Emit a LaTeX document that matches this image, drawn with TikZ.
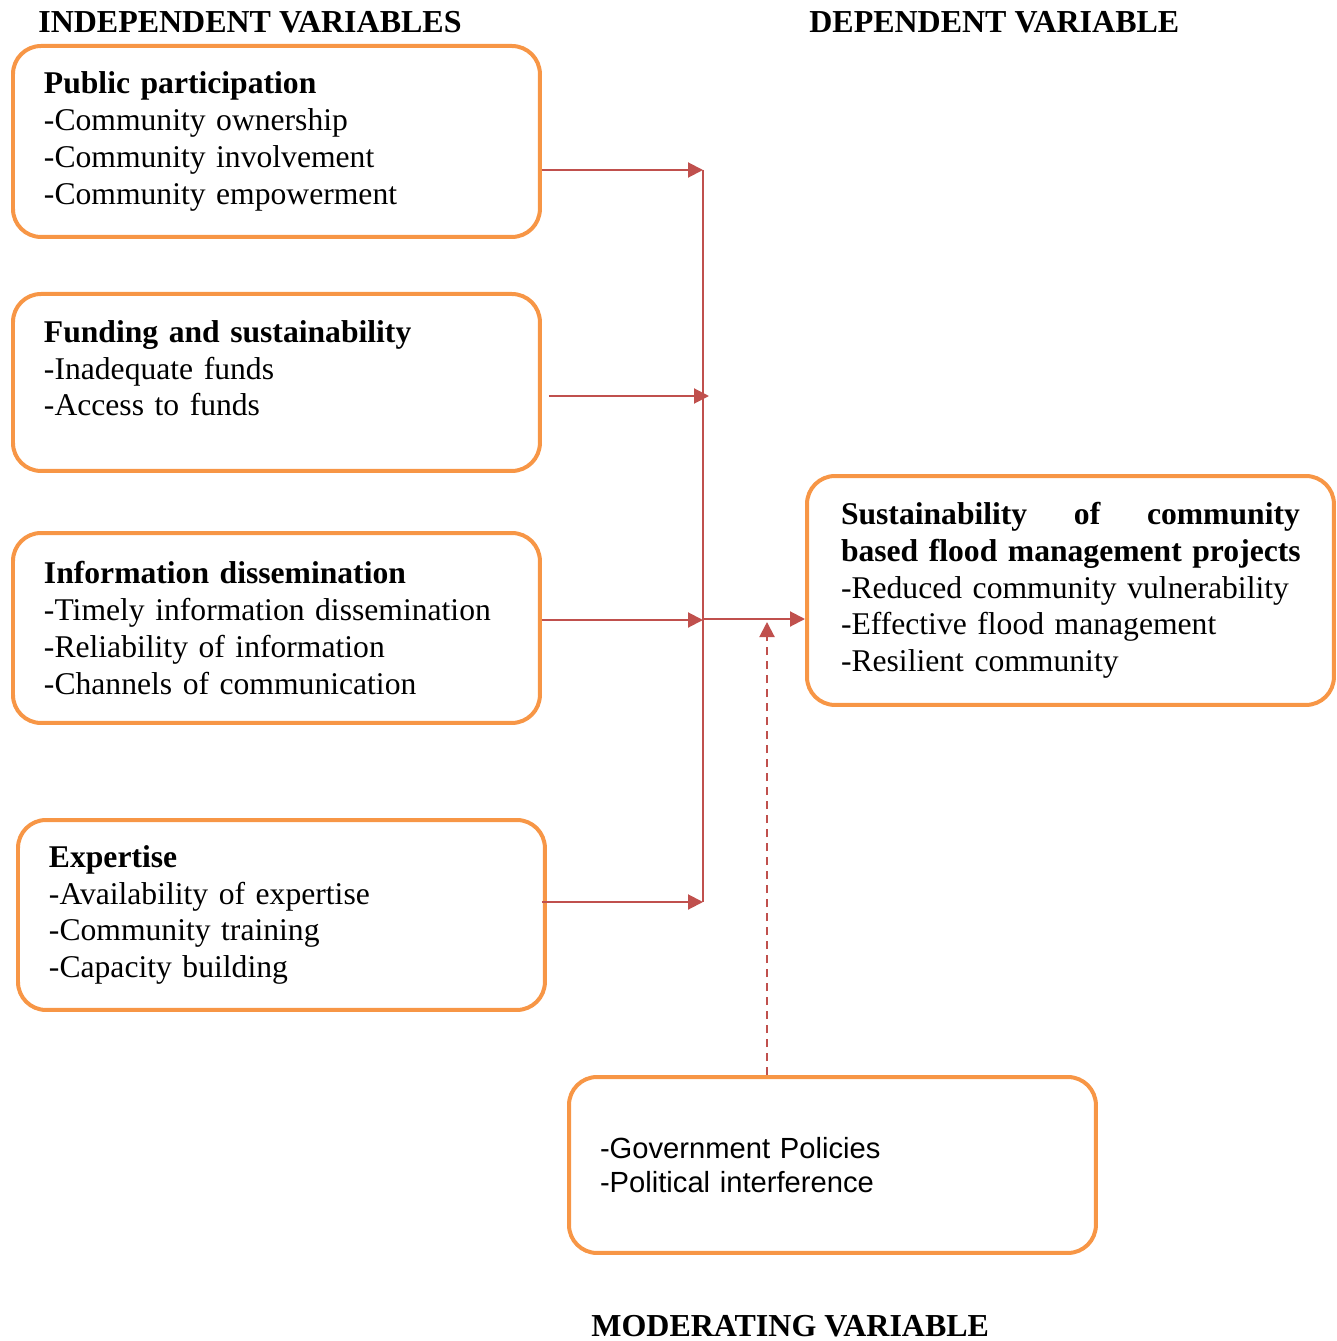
\documentclass[tikz,border=0pt]{standalone}
\usepackage{fontspec}
\setmainfont{Liberation Serif}
\setsansfont{Liberation Sans}
\usetikzlibrary{positioning, arrows.meta}
\definecolor{boxorange}{RGB}{247,150,70}
\definecolor{flowred}{RGB}{192,80,77}

\begin{document}
\begin{tikzpicture}[x=0.02cm, y=-0.02cm,
    font=\fontsize{18}{20.9}\selectfont,
    varbox/.style={draw=boxorange, line width=0.08cm, rounded corners=0.56cm,
        anchor=north west, align=left, minimum width=10.54cm,
        inner xsep=0.6cm, text width=9.3cm},
    heading/.style={anchor=base west, inner sep=0pt, font=\fontsize{18.2}{20.9}\selectfont\bfseries},
    flow/.style={draw=flowred, line width=0.04cm, -{Triangle[length=0.3cm, width=0.3cm]}}]
  \useasboundingbox (0,0) rectangle (1337,1341);

  % headings
  \node[heading] (indep) at (38,33) {INDEPENDENT VARIABLES};
  \node[heading] (dep) at (809,33) {DEPENDENT VARIABLE};
  \node[heading] (moder) at (591,1336) {MODERATING VARIABLE};

  % independent variables
  \node[varbox, minimum height=3.82cm] (pp) at (11,44)
    {\textbf{Public participation}\\-Community ownership\\-Community involvement\\-Community empowerment};
  \node[varbox, minimum height=3.54cm, text depth=58pt] (fs) at (11,292)
    {\textbf{Funding and sustainability}\\-Inadequate funds\\-Access to funds};
  \node[varbox, minimum height=3.8cm] (id) at (11,531)
    {\textbf{Information dissemination}\\-Timely information dissemination\\-Reliability of information\\-Channels of communication};
  \node[varbox, minimum height=3.8cm] (ex) at (16,818)
    {\textbf{Expertise}\\-Availability of expertise\\-Community training\\-Capacity building};

  % dependent variable
  \node[varbox, minimum height=4.58cm, inner xsep=0.64cm, text width=9.18cm] (dv) at (805,474)
    {\textbf{Sustainability\hfill of\hfill community}\\\mbox{\textbf{based flood management projects}}\\-Reduced community vulnerability\\-Effective flood management\\-Resilient community};

  % moderating variable
  \node[varbox, minimum height=3.52cm, font=\sffamily\fontsize{16.6}{19.3}\selectfont] (mv) at (567,1075)
    {-Government Policies\\-Political interference};

  % connectors
  \coordinate (bustop) at (703,170);
  \coordinate (busbot) at (703,902);
  \coordinate (fundtip) at (709,396);
  \coordinate (infotip) at (703,620);
  \coordinate (join) at (703,619);
  \coordinate (modtip) at (767,622);

  \draw[flow] (pp.east |- bustop) -- (bustop);
  \draw[flow] ([xshift=0.14cm]fs.east |- fundtip) -- (fundtip);
  \draw[flow] (id.east |- infotip) -- (infotip);
  \draw[flow] ([xshift=-0.1cm]ex.east |- busbot) -- (busbot);
  \draw[flowred, line width=0.04cm] (bustop) -- (busbot);
  \draw[flow] (join) -- (dv.west |- join);
  \draw[flow, dash pattern=on 0.16cm off 0.12cm] (mv.north -| modtip) -- (modtip);
\end{tikzpicture}
\end{document}
